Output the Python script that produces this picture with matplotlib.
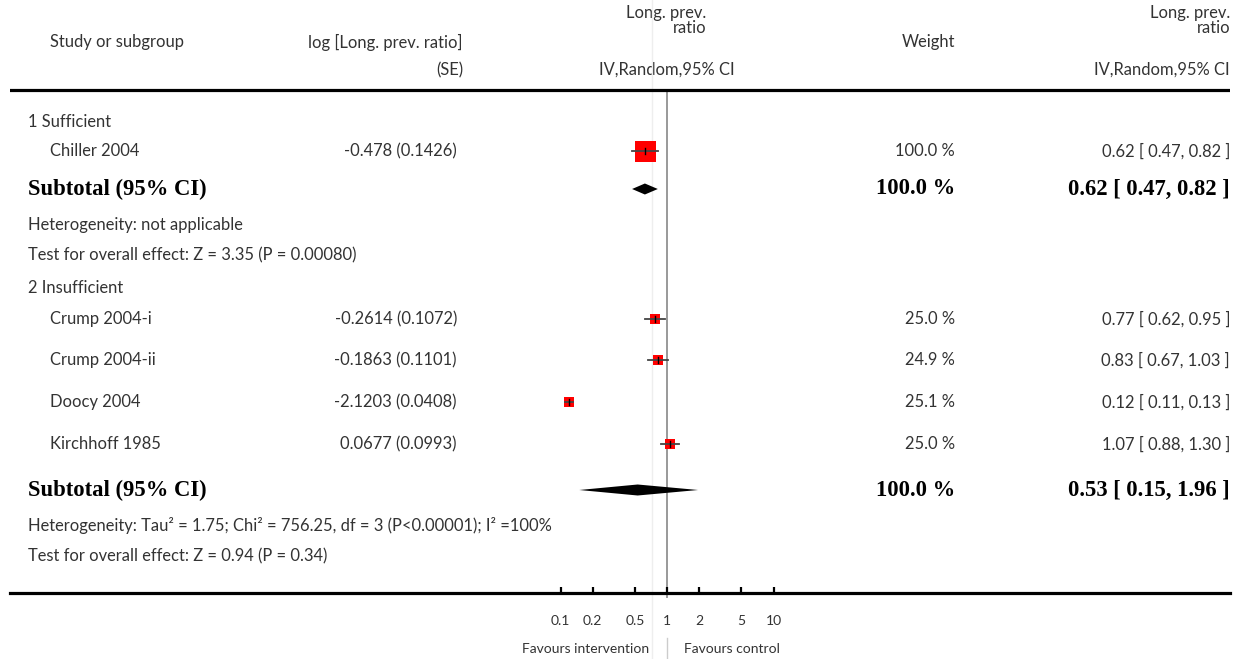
import numpy as np
import matplotlib.pyplot as plt

# ---- data ----
studies = ["Chiller 2004", "Crump 2004-i", "Crump 2004-ii", "Doocy 2004", "Kirchhoff 1985"]
log_ratio = [-0.478, -0.2614, -0.1863, -2.1203, 0.0677]
log_se = ["0.1426", "0.1072", "0.1101", "0.0408", "0.0993"]
weights = [100.0, 25.0, 24.9, 25.1, 25.0]
ratio = [0.62, 0.77, 0.83, 0.12, 1.07]
ci_low = [0.47, 0.62, 0.67, 0.11, 0.88]
ci_high = [0.82, 0.95, 1.03, 0.13, 1.30]

sub_ratio = [0.62, 0.53]
sub_low = [0.47, 0.15]
sub_high = [0.82, 1.96]
sub_weight = [100.0, 100.0]

groups = ["1 Sufficient", "2 Insufficient"]
heterogeneity = ["Heterogeneity: not applicable",
                 "Heterogeneity: Tau² = 1.75; Chi² = 756.25, df = 3 (P<0.00001); I² =100%"]
overall = ["Test for overall effect: Z = 3.35 (P = 0.00080)",
           "Test for overall effect: Z = 0.94 (P = 0.34)"]
xticks = [0.1, 0.2, 0.5, 1, 2, 5, 10]
xticklabels = ["0.1", "0.2", "0.5", "1", "2", "5", "10"]

# ---- layout (pixel rows from top) ----
W, H = 1240, 659
study_y = [151, 319, 360, 402, 444]
group_y = [122, 288]
sub_y = [189, 490]
het_y = [225, 525]
test_y = [255, 556]
axis_y = 593
px_decade = 106.5
px_one = 667
L, R = 10, 1230

FONT = "Lato"
SERIF = "Liberation Serif"
TC = "#333333"
fs = 11.9
sfs = 10.0
bfs = 16.3

fig = plt.figure(figsize=(W / 100, H / 100), dpi=100)
tab = fig.add_axes([0, 0, 1, 1])
tab.set_xlim(0, W)
tab.set_ylim(H, 0)
tab.axis("off")

ax = fig.add_axes([L / W, 0, (R - L) / W, 1])
ax.patch.set_alpha(0)
ax.set_xscale("log")
ax.set_xlim(10 ** ((L - px_one) / px_decade), 10 ** ((R - px_one) / px_decade))
ax.set_ylim(H, 0)
for s in ["top", "left", "right"]:
    ax.spines[s].set_visible(False)
ax.spines["bottom"].set_position(("data", axis_y))
ax.spines["bottom"].set_linewidth(2.3)
ax.set_yticks([])
ax.set_xticks(xticks)
ax.set_xticks([], minor=True)
ax.set_xticklabels(xticklabels, fontfamily=FONT, fontsize=sfs, color=TC)
ax.tick_params(axis="x", direction="in", length=4, width=1.6, pad=16)

# header rule
ax.axhline(90, color="black", lw=2.3)

# reference lines
ax.axvline(0.72, color="#eeeeee", lw=1.0, zorder=0)
ax.plot([1, 1], [92, axis_y + 4], color="#999999", lw=1.4, zorder=1)
ax.plot([1, 1], [638, H], color="#cccccc", lw=1.0, zorder=1)

# studies
for i in range(len(studies)):
    y = study_y[i]
    ax.plot([ci_low[i], ci_high[i]], [y, y], color="#444444", lw=1.3, zorder=4)
    side = 21 * np.sqrt(weights[i] / 100.0)
    ax.plot(ratio[i], y, marker="s", ms=side * 0.72, color="#ff0000", mew=0, zorder=3)
    ax.plot([ratio[i], ratio[i]], [y - 3, y + 3], color="black", lw=1.0, zorder=5)

# subtotal diamonds
for j in range(len(sub_ratio)):
    y = sub_y[j]
    ax.fill([sub_low[j], sub_ratio[j], sub_high[j], sub_ratio[j]],
            [y, y - 5.5, y, y + 5.5], color="black", lw=0, zorder=4)

# ---- texts ----
def t(x, y, s, ha="left", bold=False, size=fs, **kw):
    if bold:
        tab.text(x, y, s, ha=ha, va="center", fontfamily=SERIF, fontweight="bold",
                 fontsize=bfs, color="black", **kw)
    else:
        tab.text(x, y, s, ha=ha, va="center", fontfamily=FONT,
                 fontsize=size, color=TC, **kw)

# headers
t(50, 42, "Study or subgroup")
t(463, 42, "log [Long. prev. ratio]", ha="right")
t(463, 70, "(SE)", ha="right")
t(706, 13, "Long. prev.", ha="right")
t(706, 28, "ratio", ha="right")
t(667, 70, "IV,Random,95% CI", ha="center")
t(955, 42, "Weight", ha="right")
t(1230, 13, "Long. prev.", ha="right")
t(1230, 28, "ratio", ha="right")
t(1230, 70, "IV,Random,95% CI", ha="right")

for g in range(2):
    t(28, group_y[g], groups[g])
    t(28, sub_y[g], "Subtotal (95% CI)", bold=True)
    t(955, sub_y[g], f"{sub_weight[g]:.1f} %", ha="right", bold=True)
    t(1230, sub_y[g], f"{sub_ratio[g]:.2f} [ {sub_low[g]:.2f}, {sub_high[g]:.2f} ]",
      ha="right", bold=True)
    t(28, het_y[g], heterogeneity[g])
    t(28, test_y[g], overall[g])

for i in range(len(studies)):
    y = study_y[i]
    t(50, y, studies[i])
    lr = f"{log_ratio[i]:.4f}".rstrip("0") if i == 0 else f"{log_ratio[i]:.4f}"
    t(457, y, f"{lr} ({log_se[i]})", ha="right")
    t(955, y, f"{weights[i]:.1f} %", ha="right")
    t(1230, y, f"{ratio[i]:.2f} [ {ci_low[i]:.2f}, {ci_high[i]:.2f} ]", ha="right")

t(649, 649, "Favours intervention", ha="right", size=sfs)
t(684, 649, "Favours control", size=sfs)

fig.savefig("out.png", dpi=100)
